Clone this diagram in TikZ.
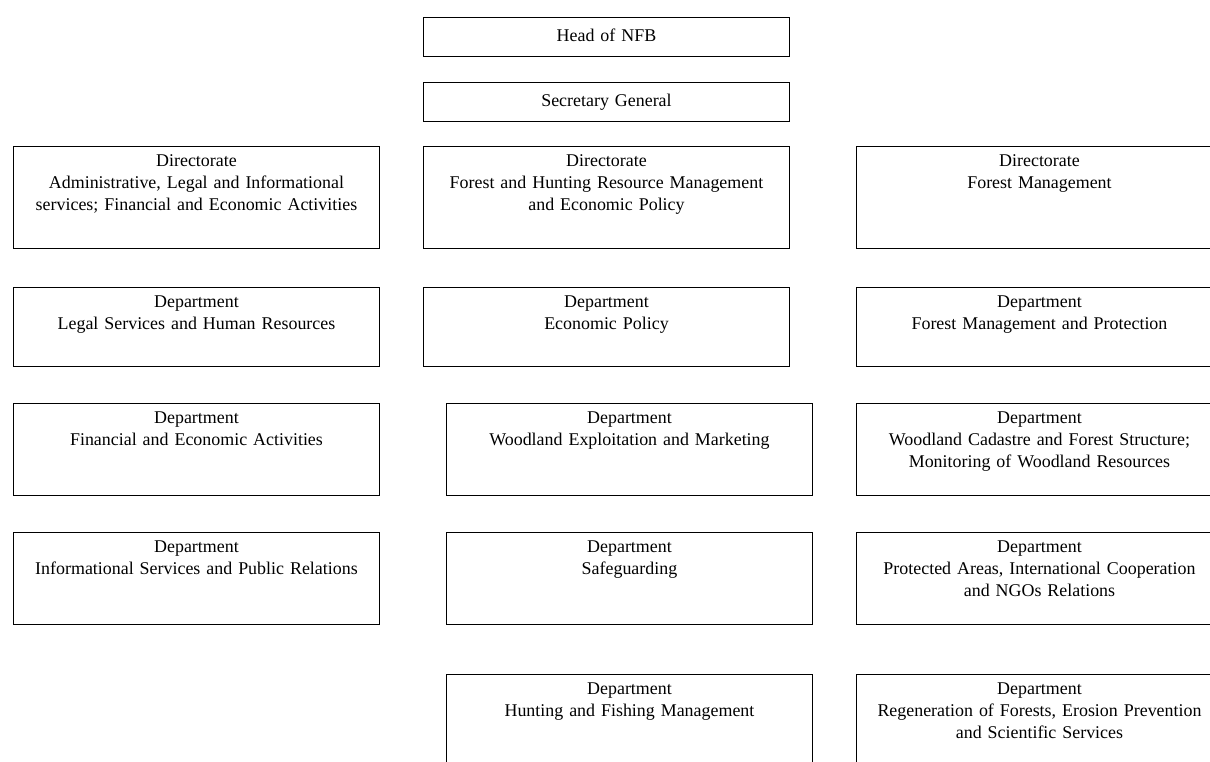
\documentclass[tikz,border=0pt]{standalone}
\usepackage{fontspec}
\setmainfont{Liberation Serif}
\begin{document}
\begin{tikzpicture}[x=0.625pt, y=-0.625pt,
		unit/.style={draw, line width=0.6pt, anchor=north west, inner sep=0pt,
			text width=228.75pt, align=center, font=\fontsize{11.2}{14}\selectfont,
			text height=12.3pt, text depth=#1},
		head/.style={unit=9.6pt, text height=14.8pt}]
		\useasboundingbox (0, 0) rectangle (1210, 761);
		\clip (0, 0) rectangle (1210, 761);
		% top of the chart
		\node[head] (head) at (423, 17) {Head of NFB};
		\node[head] (secgen) at (423, 82) {Secretary General};
		% directorates
		\node[unit=51.45pt] (dirAdmin) at (13, 146) {Directorate\\Administrative, Legal and Informational\\services; Financial and Economic Activities};
		\node[unit=51.45pt] (dirResource) at (423, 146) {Directorate\\Forest and Hunting Resource Management\\and Economic Policy};
		\node[unit=51.45pt] (dirForest) at (856, 146) {Directorate\\Forest Management};
		% departments, left column
		\node[unit=37.1pt] (depLegal) at (13, 287) {Department\\Legal Services and Human Resources};
		\node[unit=45.2pt] (depFinance) at (13, 403) {Department\\Financial and Economic Activities};
		\node[unit=45.2pt] (depInfo) at (13, 532) {Department\\Informational Services and Public Relations};
		% departments, middle column
		\node[unit=37.1pt] (depEconomic) at (423, 287) {Department\\Economic Policy};
		\node[unit=45.2pt] (depWoodland) at (446, 403) {Department\\Woodland Exploitation and Marketing};
		\node[unit=45.2pt] (depSafe) at (446, 532) {Department\\Safeguarding};
		\node[unit=45.2pt] (depHunting) at (446, 674) {Department\\Hunting and Fishing Management};
		% departments, right column
		\node[unit=37.1pt] (depProtection) at (856, 287) {Department\\Forest Management and Protection};
		\node[unit=45.2pt] (depCadastre) at (856, 403) {Department\\Woodland Cadastre and Forest Structure;\\Monitoring of Woodland Resources};
		\node[unit=45.2pt] (depAreas) at (856, 532) {Department\\Protected Areas, International Cooperation\\and NGOs Relations};
		\node[unit=45.2pt] (depRegen) at (856, 674) {Department\\Regeneration of Forests, Erosion Prevention\\and Scientific Services};
	\end{tikzpicture}
\end{document}
